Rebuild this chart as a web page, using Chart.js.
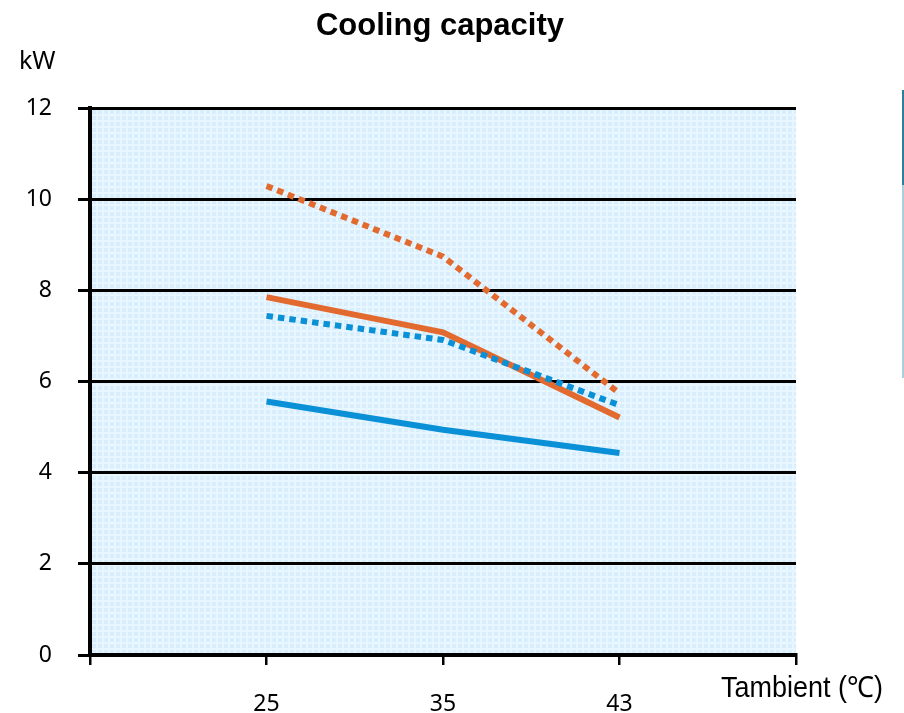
<!DOCTYPE html>
<html>
<head>
<meta charset="utf-8">
<script src="https://cdn.jsdelivr.net/npm/chart.js@4.4.1/dist/chart.umd.min.js"></script>
<style>
  html, body { margin: 0; padding: 0; background: #ffffff; }
  #wrap { width: 904px; height: 713px; position: relative; }
</style>
</head>
<body>
<div id="wrap"><canvas id="c" width="904" height="713"></canvas></div>
<script>
// ---- data ----
const categories = ['25', '35', '43'];          // Tambient (°C)
const yTicks = [0, 2, 4, 6, 8, 10, 12];          // kW
const orangeDotted = [10.29, 8.74, 5.74];
const orangeSolid  = [7.85, 7.08, 5.21];
const blueDotted   = [7.44, 6.91, 5.48];
const blueSolid    = [5.56, 4.94, 4.43];

const titleText = 'Cooling capacity';
const yUnitText = 'kW';
const xAxisText = 'Tambient (\u2103)';

// category axis with an empty slot on each side (ticks at plot edges)
const labels = [''].concat(categories, ['']);
const pad = arr => [null].concat(arr, [null]);

const ORANGE = '#E36A2F';
const BLUE = '#0A90D6';

function makePattern(ctx) {
  const p = document.createElement('canvas');
  p.width = 6; p.height = 6;
  const g = p.getContext('2d');
  g.fillStyle = '#D8EEFC';
  g.fillRect(0, 0, 6, 6);
  g.fillStyle = '#E8F6FF';
  g.fillRect(0, 0, 2, 6);
  g.fillRect(0, 0, 6, 2);
  return ctx.createPattern(p, 'repeat');
}

const decor = {
  id: 'decor',
  beforeDraw(chart) {
    const { ctx, chartArea: a } = chart;
    ctx.save();
    ctx.fillStyle = makePattern(ctx);
    ctx.fillRect(a.left, a.top, a.right - a.left, a.bottom - a.top);
    ctx.restore();
  },
  afterDraw(chart) {
    const ctx = chart.ctx;
    ctx.save();
    ctx.fillStyle = '#000';
    ctx.textAlign = 'center';
    ctx.textBaseline = 'middle';
    ctx.font = 'bold 31px "Liberation Sans", Arial, sans-serif';
    ctx.fillText(titleText, 440, 26, 255);
    ctx.textAlign = 'left';
    ctx.font = '25px "Noto Sans", "Open Sans", sans-serif';
    ctx.fillText(yUnitText, 19, 62, 38);
    ctx.font = '29px "Liberation Sans", Arial, sans-serif';
    ctx.fillText(xAxisText, 721, 689, 162);
    // thin vertical rule at the right edge of the reference image
    ctx.fillStyle = '#2E7E9E';
    ctx.fillRect(902, 90, 2, 95);
    ctx.fillStyle = '#A9D1DD';
    ctx.fillRect(902, 185, 2, 193);
    ctx.restore();
  }
};

function line(label, data, color, dotted) {
  return {
    label, data: pad(data),
    borderColor: color, backgroundColor: color,
    borderWidth: 6, pointRadius: 0, tension: 0, fill: false,
    borderDash: dotted ? [6.5, 5] : [],
    borderCapStyle: 'butt', borderJoinStyle: 'miter'
  };
}

new Chart(document.getElementById('c'), {
  type: 'line',
  data: {
    labels,
    datasets: [
      line('orange dotted', orangeDotted, ORANGE, true),
      line('blue dotted', blueDotted, BLUE, true),
      line('orange solid', orangeSolid, ORANGE, false),
      line('blue solid', blueSolid, BLUE, false)
    ]
  },
  options: {
    responsive: false,
    devicePixelRatio: 1,
    animation: false,
    layout: { padding: { top: 108, right: 108, left: 0, bottom: 0 } },
    plugins: { legend: { display: false }, title: { display: false }, tooltip: { enabled: false } },
    scales: {
      x: {
        type: 'category',
        offset: false,
        grid: { drawOnChartArea: false, drawTicks: true, tickLength: 10, color: '#000', lineWidth: 2.5 },
        border: { display: true, color: '#000', width: 4 },
        ticks: {
          color: '#000', padding: 26, maxRotation: 0, autoSkip: false,
          font: { family: '"Noto Sans", "Open Sans", sans-serif', size: 23 }
        },
        afterFit(s) { s.height = 58; }
      },
      y: {
        min: yTicks[0], max: yTicks[yTicks.length - 1],
        afterBuildTicks(s) { s.ticks = yTicks.map(v => ({ value: v })); },
        grid: { color: '#000', lineWidth: 3, tickLength: 12, drawTicks: true },
        border: { display: true, color: '#000', width: 4 },
        ticks: {
          color: '#000', padding: 26,
          font: { family: '"Noto Sans", "Open Sans", sans-serif', size: 23 }
        },
        afterFit(s) { s.width = 90; }
      }
    }
  },
  plugins: [decor]
});
</script>
</body>
</html>
